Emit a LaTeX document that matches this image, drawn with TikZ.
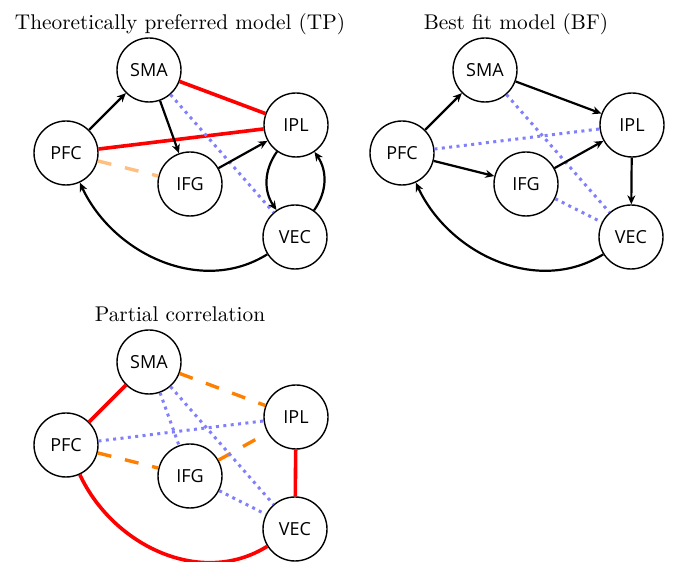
\documentclass[tikz,border=0pt]{standalone}
\usepackage{fontspec}
\newfontfamily\regionfamily{Open Sans}
\usetikzlibrary{arrows.meta,positioning}

\tikzset{
	region/.style = {circle, draw, line width = 0.7pt, minimum size = 32pt, inner sep = 0pt,
		font = \regionfamily\fontsize{9}{10}\selectfont},
	heading/.style = {anchor = base, font = \fontsize{10.65}{13}\selectfont},
	link/.style = {-{Stealth[length = 4.5pt, width = 4pt]}, line width = 1.1pt},
	strong/.style = {red, line width = 1.8pt},
	weak/.style = {blue!50, line width = 1.5pt, dash pattern = on 1.5pt off 2.2pt},
	negative/.style = {orange, line width = 1.7pt, dash pattern = on 7pt off 7pt}
}

\begin{document}
\begin{tikzpicture}[x = 0.5pt, y = 0.5pt]
\useasboundingbox (0,0) rectangle (675,562);

% theoretically preferred model
\begin{scope}
	\node[heading] (tpTitle) at (180,532.5) {Theoretically preferred model (TP)};
	\node[region] (tpSMA) at (149,492) {SMA};
	\node[region] (tpPFC) at (66,409) {PFC};
	\node[region] (tpIPL) at (296,437) {IPL};
	\node[region] (tpIFG) at (190,378) {IFG};
	\node[region] (tpVEC) at (295,325) {VEC};

	\draw[strong] (tpSMA) -- (tpIPL);
	\draw[strong] (tpPFC) -- (tpIPL);
	\draw[negative, orange!50] (tpPFC) -- (tpIFG);
	\draw[weak] (tpSMA) -- (tpVEC);
	\draw[link] (tpPFC) -- (tpSMA);
	\draw[link] (tpSMA) -- (tpIFG);
	\draw[link] (tpIFG) -- (tpIPL);
	\draw[link] (tpIPL) to[bend right = 35] (tpVEC);
	\draw[link] (tpVEC) to[bend right = 35] (tpIPL);
	\draw[link] (tpVEC) to[out = 212, in = -65] (tpPFC);
\end{scope}

% best fit model
\begin{scope}[shift = {(336,0)}]
	\node[heading] (bfTitle) at (180,532.5) {Best fit model (BF)};
	\node[region] (bfSMA) at (149,492) {SMA};
	\node[region] (bfPFC) at (66,409) {PFC};
	\node[region] (bfIPL) at (296,437) {IPL};
	\node[region] (bfIFG) at (190,378) {IFG};
	\node[region] (bfVEC) at (295,325) {VEC};

	\draw[weak] (bfPFC) -- (bfIPL);
	\draw[weak] (bfSMA) -- (bfVEC);
	\draw[weak] (bfIFG) -- (bfVEC);
	\draw[link] (bfPFC) -- (bfSMA);
	\draw[link] (bfSMA) -- (bfIPL);
	\draw[link] (bfPFC) -- (bfIFG);
	\draw[link] (bfIFG) -- (bfIPL);
	\draw[link] (bfIPL) -- (bfVEC);
	\draw[link] (bfVEC) to[out = 212, in = -65] (bfPFC);
\end{scope}

% partial correlation
\begin{scope}[shift = {(0,-292)}]
	\node[heading] (pcTitle) at (180,532.5) {Partial correlation};
	\node[region] (pcSMA) at (149,492) {SMA};
	\node[region] (pcPFC) at (66,409) {PFC};
	\node[region] (pcIPL) at (296,437) {IPL};
	\node[region] (pcIFG) at (190,378) {IFG};
	\node[region] (pcVEC) at (295,325) {VEC};

	\draw[strong] (pcPFC) -- (pcSMA);
	\draw[strong] (pcIPL) -- (pcVEC);
	\draw[strong] (pcPFC) to[out = -65, in = 212] (pcVEC);
	\draw[negative] (pcSMA) -- (pcIPL);
	\draw[negative] (pcPFC) -- (pcIFG);
	\draw[negative] (pcIFG) -- (pcIPL);
	\draw[weak] (pcPFC) -- (pcIPL);
	\draw[weak] (pcSMA) -- (pcIFG);
	\draw[weak] (pcSMA) -- (pcVEC);
	\draw[weak] (pcIFG) -- (pcVEC);
\end{scope}
\end{tikzpicture}
\end{document}
